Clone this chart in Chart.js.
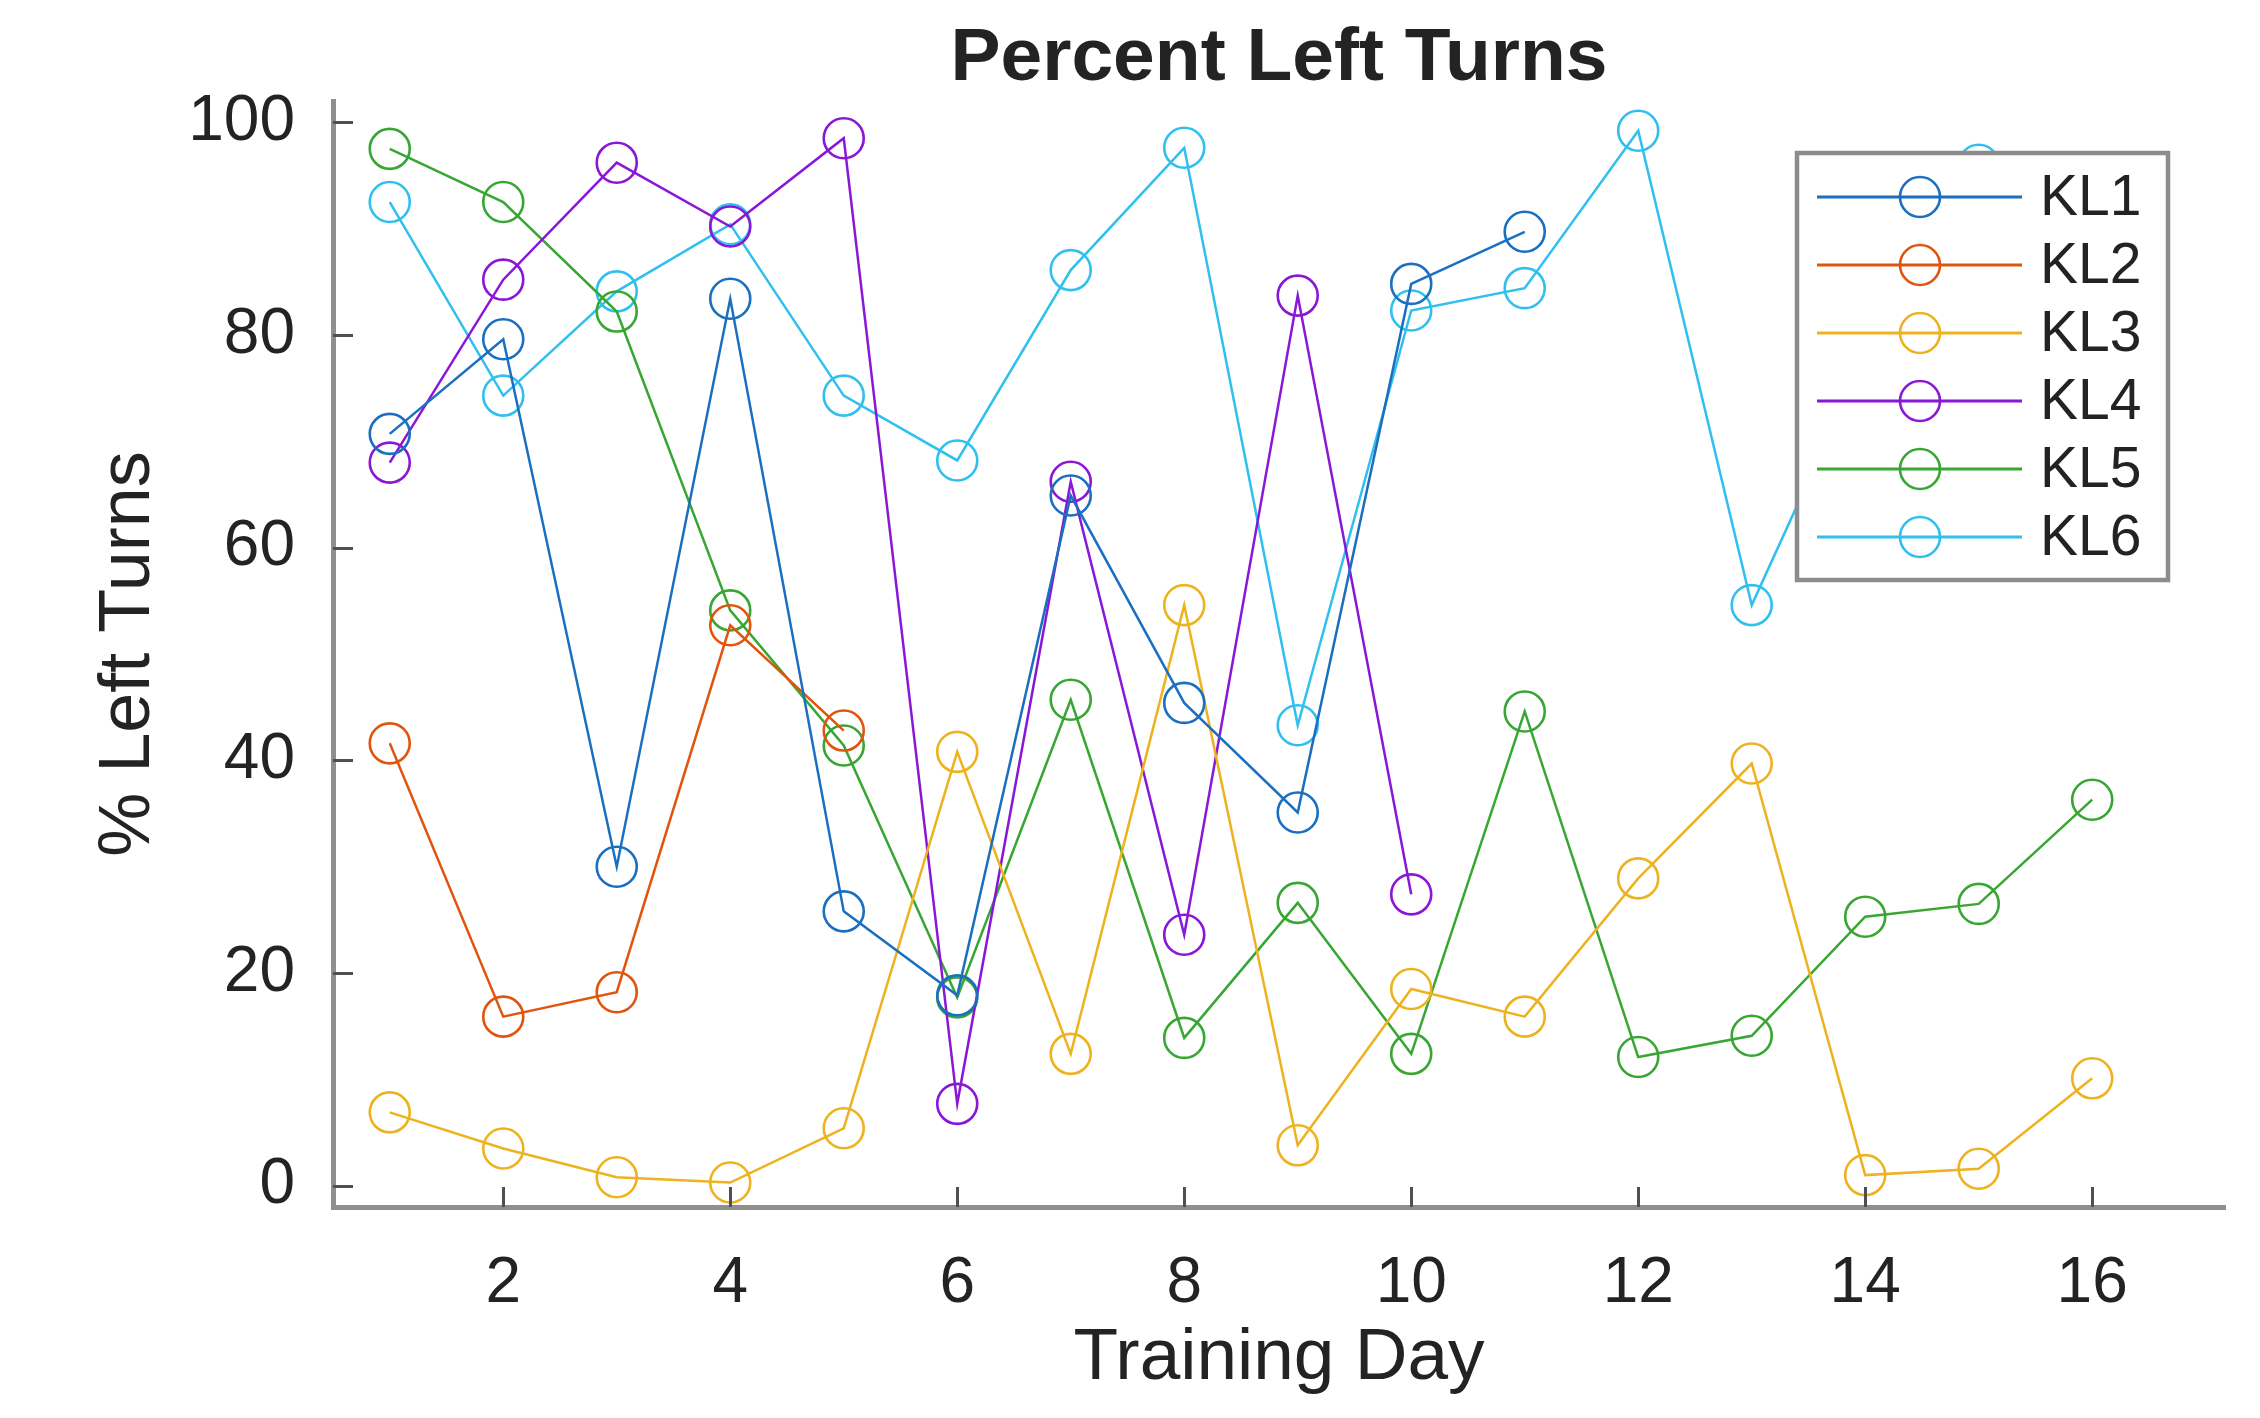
<!DOCTYPE html>
<html>
<head>
<meta charset="utf-8">
<script src="https://cdn.jsdelivr.net/npm/chart.js@4.4.1/dist/chart.umd.min.js"></script>
<style>
  html, body { margin: 0; padding: 0; background: #ffffff; overflow: hidden; }
  #wrap { width: 2260px; height: 1418px; }
</style>
</head>
<body>
<div id="wrap"><canvas id="c" width="2260" height="1418"></canvas></div>
<script>
// Training days and per-animal percentage of left turns
const days = [1, 2, 3, 4, 5, 6, 7, 8, 9, 10, 11, 12, 13, 14, 15, 16];
const seriesNames = ['KL1', 'KL2', 'KL3', 'KL4', 'KL5', 'KL6'];
const kl1 = [70.7, 79.6, 30.0, 83.4, 25.8, 17.9, 64.9, 45.4, 35.1, 84.8, 89.7];
const kl2 = [41.6, 15.9, 18.2, 52.7, 42.8];
const kl3 = [6.9, 3.5, 0.8, 0.3, 5.4, 40.8, 12.4, 54.6, 3.8, 18.5, 15.9, 28.9, 39.7, 1.0, 1.6, 10.1];
const kl4 = [68.0, 85.2, 96.2, 90.2, 98.5, 7.7, 66.2, 23.6, 83.7, 27.4];
const kl5 = [97.5, 92.5, 82.2, 54.1, 41.4, 17.7, 45.7, 13.9, 26.6, 12.4, 44.6, 12.1, 14.1, 25.3, 26.5, 36.3];
const kl6 = [92.5, 74.3, 84.1, 90.4, 74.3, 68.2, 86.1, 97.6, 43.3, 82.3, 84.4, 99.2, 54.6, 78.0, 96.0];
const xTicks = [2, 4, 6, 8, 10, 12, 14, 16];
const yTicks = [0, 20, 40, 60, 80, 100];

const seriesValues = [kl1, kl2, kl3, kl4, kl5, kl6];
const seriesColors = ['#1a6fc0', '#e0540c', '#eeb21f', '#8a16d8', '#38a632', '#2fc0f0'];

const FONT = "'Liberation Sans', Arial, Helvetica, sans-serif";
const TEXT = '#232323';

const datasets = seriesNames.map((name, i) => ({
  label: name,
  data: seriesValues[i].map((v, k) => ({ x: days[k], y: v })),
  borderColor: seriesColors[i],
  backgroundColor: 'rgba(0,0,0,0)',
  borderWidth: 2.5,
  pointRadius: 20,
  pointBorderWidth: 2.6,
  pointBackgroundColor: 'rgba(0,0,0,0)',
  pointBorderColor: seriesColors[i],
  tension: 0,
  fill: false
}));

// Inward-pointing tick marks on both axes
const innerTicks = {
  id: 'innerTicks',
  afterDatasetsDraw(chart) {
    const { ctx, chartArea: a, scales: { x, y } } = chart;
    ctx.save();
    ctx.strokeStyle = '#505050';
    ctx.lineWidth = 3;
    xTicks.forEach(v => {
      const px = Math.round(x.getPixelForValue(v)) + 0.5;
      ctx.beginPath(); ctx.moveTo(px, a.bottom); ctx.lineTo(px, a.bottom - 20); ctx.stroke();
    });
    yTicks.forEach(v => {
      const py = Math.round(y.getPixelForValue(v)) + 0.5;
      ctx.beginPath(); ctx.moveTo(a.left, py); ctx.lineTo(a.left + 20, py); ctx.stroke();
    });
    ctx.restore();
  }
};

// Boxed legend in the upper right of the plot, line with circle marker per series
const boxLegend = {
  id: 'boxLegend',
  afterDatasetsDraw(chart) {
    const { ctx } = chart;
    const left = 1797, top = 153, right = 2168, bottom = 580;
    ctx.save();
    ctx.fillStyle = '#ffffff';
    ctx.fillRect(left, top, right - left, bottom - top);
    ctx.strokeStyle = '#8c8c8c';
    ctx.lineWidth = 4.5;
    ctx.strokeRect(left, top, right - left, bottom - top);
    chart.data.datasets.forEach((ds, i) => {
      const cy = 197 + i * 68;
      ctx.strokeStyle = ds.borderColor;
      ctx.lineWidth = 3;
      ctx.beginPath(); ctx.moveTo(1817, cy); ctx.lineTo(2022, cy); ctx.stroke();
      ctx.lineWidth = 2.6;
      ctx.beginPath(); ctx.arc(1920, cy, 20, 0, Math.PI * 2); ctx.stroke();
      ctx.fillStyle = TEXT;
      ctx.font = '57px ' + FONT;
      ctx.textAlign = 'left';
      ctx.textBaseline = 'middle';
      ctx.fillText(ds.label, 2040, cy + 2);
    });
    ctx.restore();
  }
};

new Chart(document.getElementById('c'), {
  type: 'line',
  data: { datasets },
  options: {
    responsive: false,
    animation: false,
    devicePixelRatio: 1,
    layout: { padding: { left: 0, right: 35, top: 0, bottom: 0 } },
    plugins: {
      legend: { display: false },
      tooltip: { enabled: false },
      title: {
        display: true,
        text: 'Percent Left Turns',
        fullSize: false,
        color: TEXT,
        font: { family: FONT, size: 75, weight: 'bold', lineHeight: 1.1 },
        padding: { top: 18.5, bottom: 0 }
      }
    },
    scales: {
      x: {
        type: 'linear',
        min: 0.5,
        max: 17.17,
        grid: { display: false },
        border: { display: true, color: '#8f8f8f', width: 5 },
        ticks: {
          color: TEXT,
          font: { family: FONT, size: 64 },
          padding: 31,
          maxRotation: 0
        },
        afterBuildTicks: s => { s.ticks = xTicks.map(v => ({ value: v })); },
        afterFit: s => { s.height = 211; },
        title: {
          display: true,
          text: 'Training Day',
          color: TEXT,
          font: { family: FONT, size: 73, lineHeight: 1.2 },
          padding: { top: 0, bottom: 15 }
        }
      },
      y: {
        type: 'linear',
        min: -2,
        max: 102,
        grid: { display: false },
        border: { display: true, color: '#8f8f8f', width: 5 },
        ticks: {
          color: TEXT,
          font: { family: FONT, size: 64 },
          padding: 30
        },
        afterBuildTicks: s => { s.ticks = yTicks.map(v => ({ value: v })); },
        afterFit: s => { s.width = 333; },
        title: {
          display: true,
          text: '% Left Turns',
          color: TEXT,
          font: { family: FONT, size: 72, lineHeight: 1.2 },
          padding: { top: 86, bottom: 0 }
        }
      }
    }
  },
  plugins: [innerTicks, boxLegend]
});
</script>
</body>
</html>
